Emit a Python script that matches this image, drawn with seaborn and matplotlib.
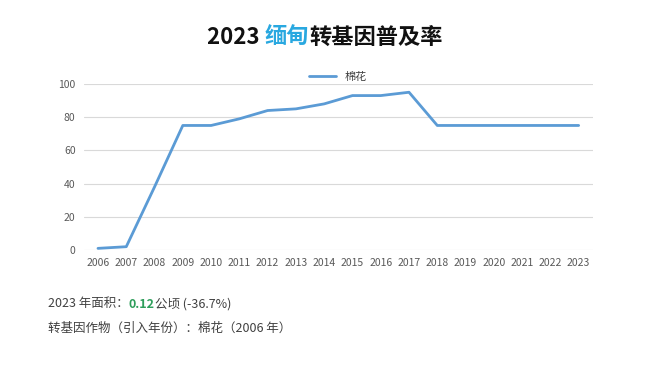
import matplotlib
matplotlib.use("Agg")
import matplotlib.pyplot as plt
import seaborn as sns
import pandas as pd

years = list(range(2006, 2024))
cotton = [1, 2, 38, 75, 75, 79, 84, 85, 88, 93, 93, 95, 75, 75, 75, 75, 75, 75]
series_name = "棉花"
yticks = [0, 20, 40, 60, 80, 100]

sns.set_theme(style="white")
plt.rcParams['font.family'] = ['Noto Sans CJK SC', 'DejaVu Sans']

df = pd.DataFrame({"year": years, "value": cotton, "crop": series_name})

fig = plt.figure(figsize=(6.5, 3.65), dpi=100)
fig.patch.set_facecolor("white")
ax = fig.add_axes([0.129, 0.315, 0.783, 0.455])
sns.lineplot(data=df, x="year", y="value", hue="crop", palette=["#5b9bd5"],
             linewidth=2.0, ax=ax)
ax.set_xlim(2005.5, 2023.5)
ax.set_ylim(0, 100)
ax.set_xticks(years)
ax.set_xticklabels([str(y) for y in years], fontsize=7.5, color="#595959")
ax.set_yticks(yticks)
ax.set_yticklabels([str(v) for v in yticks], fontsize=7.5, color="#595959")
ax.set_xlabel("")
ax.set_ylabel("")
for s in ax.spines.values():
    s.set_visible(False)
ax.grid(axis="y", color="#d9d9d9", linewidth=0.8)
ax.set_axisbelow(True)
ax.tick_params(axis="both", length=0, pad=6)
for l in ax.lines:
    l.set_clip_on(False)

leg = ax.legend(loc="center", bbox_to_anchor=(0.5, 1.04), frameon=False,
                fontsize=8, handlelength=2.4, handletextpad=0.8)
for t in leg.get_texts():
    t.set_color("#404040")

fig.canvas.draw()
renderer = fig.canvas.get_renderer()

def draw_parts(parts, x0, y, center=False, **common):
    texts = []
    x = x0
    for s, kw in parts:
        t = fig.text(x, y, s, va="center", ha="left", **common, **kw)
        bb = t.get_window_extent(renderer=renderer)
        x += bb.width / fig.bbox.width
        texts.append(t)
    if center:
        total = x - x0
        shift = x0 - (0.5 - total / 2)
        for t in texts:
            px, py = t.get_position()
            t.set_position((px - shift, py))
    return texts

title_parts = [("2023 ", dict(color="#111111", fontweight="bold")),
               ("缅甸", dict(color="#29a8e0", fontweight="bold")),
               ("转基因普及率", dict(color="#111111", fontweight="bold"))]
draw_parts(title_parts, 0.0, 1 - 37 / 365, center=True, fontsize=16)

line1 = [("2023 年面积：", dict(color="#404040")),
         ("0.12", dict(color="#2e9e5b", fontweight="bold")),
         ("公顷 (-36.7%)", dict(color="#404040"))]
draw_parts(line1, 48 / 650, 1 - 304 / 365, fontsize=9)
fig.text(48 / 650, 1 - 328 / 365, "转基因作物（引入年份）：棉花（2006 年）",
         va="center", ha="left", fontsize=9, color="#404040")

fig.savefig("out.png", dpi=100, facecolor="white")
